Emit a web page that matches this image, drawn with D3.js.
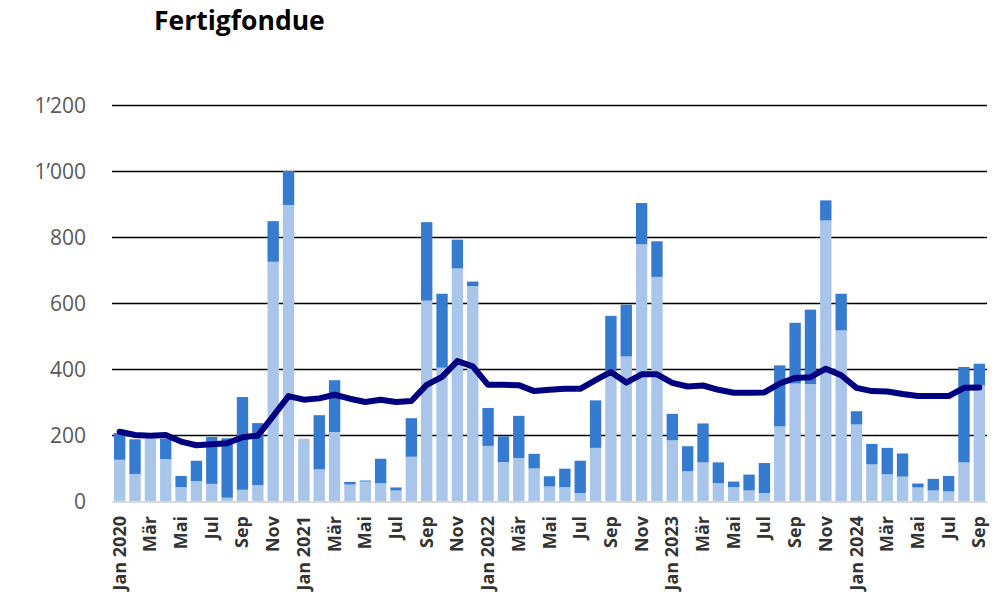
<!DOCTYPE html>
<html>
<head>
<meta charset="utf-8">
<script src="https://cdn.jsdelivr.net/npm/d3@7"></script>
<style>
html,body{margin:0;padding:0;background:#fff;}
svg{display:block;}
</style>
</head>
<body>
<svg id="chart" width="1003" height="604"></svg>
<script>
const months = ["Jan 2020","Feb","Mär","Apr","Mai","Jun","Jul","Aug","Sep","Okt","Nov","Dez",
"Jan 2021","Feb","Mär","Apr","Mai","Jun","Jul","Aug","Sep","Okt","Nov","Dez",
"Jan 2022","Feb","Mär","Apr","Mai","Jun","Jul","Aug","Sep","Okt","Nov","Dez",
"Jan 2023","Feb","Mär","Apr","Mai","Jun","Jul","Aug","Sep","Okt","Nov","Dez",
"Jan 2024","Feb","Mär","Apr","Mai","Jun","Jul","Aug","Sep"];
const lightValues = [125,82,188,127,42,60,52,10,34,48,725,897,
189,96,209,50,59,54,32,134,607,404,705,651,
167,118,130,99,44,42,24,161,395,438,778,679,
184,90,117,54,42,32,24,226,356,354,850,517,
232,111,81,74,41,32,29,117,350];
const darkValues = [81,105,0,62,34,62,142,180,281,188,123,103,
0,164,157,8,3,74,9,117,238,224,87,14,
115,78,128,44,31,56,98,144,166,157,125,108,
80,76,118,63,17,48,91,185,184,226,61,111,
40,62,80,70,12,35,47,289,66];
const lineValues = [210,200,198,200,180,169,172,175,193,198,257,318,
307,311,322,310,300,307,300,303,352,376,424,408,
352,352,351,333,337,340,340,366,391,359,384,384,
358,347,350,337,328,328,329,356,373,375,401,381,
343,333,332,324,318,318,318,343,344];
const yTicks = [0,200,400,600,800,1000,1200];
const yTickLabels = ["0","200","400","600","800","1’000","1’200"];
const title = "Fertigfondue";

const svg = d3.select("#chart");
const pLeft = 112, pRight = 987, pTop = 105, pBottom = 501;

const x = d3.scaleBand().domain(d3.range(months.length)).range([pLeft, pRight]).paddingInner(0.26).paddingOuter(0.13);
const y = d3.scaleLinear().domain([0,1200]).range([pBottom, pTop]);

// title
svg.append("text").attr("x",154).attr("y",30).attr("font-family","'Open Sans', sans-serif")
  .attr("font-weight","bold").attr("font-size",26.5).attr("fill","#000").text(title);

// gridlines
const yAxis = d3.axisLeft(y).tickValues(yTicks.slice(1)).tickSize(-(pRight-pLeft)).tickFormat("");
const gy = svg.append("g").attr("transform",`translate(${pLeft},0)`).call(yAxis);
gy.select(".domain").remove();
gy.selectAll(".tick line").attr("stroke","#000").attr("stroke-width",1.5);

// y labels
svg.append("g").selectAll("text").data(yTicks).join("text")
  .attr("x",86).attr("y",d=>y(d)).attr("dy","0.36em").attr("text-anchor","end")
  .attr("font-family","'Open Sans', sans-serif").attr("font-size",21).attr("fill","#595959")
  .text((d,i)=>yTickLabels[i]);

// stacked bars
const stackData = months.map((m,i)=>({i, light: lightValues[i], dark: darkValues[i]}));
const series = d3.stack().keys(["light","dark"])(stackData);
const colors = {light:"#a9c6ea", dark:"#357bd0"};
svg.append("g").selectAll("g").data(series).join("g")
  .attr("fill",s=>colors[s.key])
  .selectAll("rect").data(s=>s).join("rect")
  .attr("x",d=>x(d.data.i)).attr("width",x.bandwidth())
  .attr("y",d=>y(d[1])).attr("height",d=>Math.max(0,y(d[0])-y(d[1])));

// baseline
svg.append("line").attr("x1",pLeft).attr("x2",pRight).attr("y1",y(0)+1).attr("y2",y(0)+1)
  .attr("stroke","#d9d9d9").attr("stroke-width",2);

// line
const line = d3.line().x((d,i)=>x(i)+x.bandwidth()/2).y(d=>y(d));
svg.append("path").datum(lineValues).attr("d",line).attr("fill","none")
  .attr("stroke","#000080").attr("stroke-width",6).attr("stroke-linejoin","round").attr("stroke-linecap","round");

// x labels
const gx = svg.append("g");
months.forEach((m,i)=>{
  if(i%2!==0) return;
  const cx = x(i)+x.bandwidth()/2;
  gx.append("text").attr("transform",`translate(${cx+6},516) rotate(-90)`)
    .attr("text-anchor","end").attr("font-family","'Open Sans', sans-serif")
    .attr("font-weight","bold").attr("font-size",18).attr("fill","#333333").text(m);
});
</script>
</body>
</html>
